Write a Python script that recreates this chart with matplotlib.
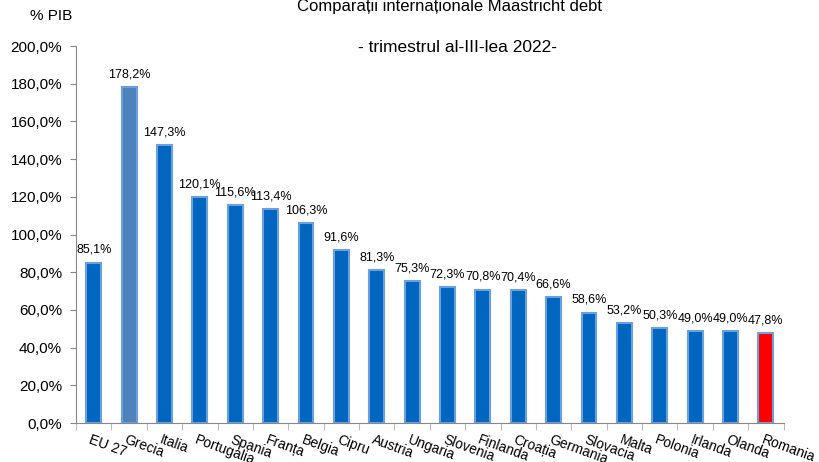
import matplotlib.pyplot as plt
from matplotlib.ticker import FuncFormatter

# date
tari = ['EU 27', 'Grecia', 'Italia', 'Portugalia', 'Spania', 'Franța', 'Belgia', 'Cipru',
        'Austria', 'Ungaria', 'Slovenia', 'Finlanda', 'Croația', 'Germania', 'Slovacia',
        'Malta', 'Polonia', 'Irlanda', 'Olanda', 'Romania']
datorie = [85.1, 178.2, 147.3, 120.1, 115.6, 113.4, 106.3, 91.6, 81.3, 75.3, 72.3,
           70.8, 70.4, 66.6, 58.6, 53.2, 50.3, 49.0, 49.0, 47.8]

plt.rcParams['font.family'] = ['Liberation Sans', 'DejaVu Sans']

culori = ['#0066BF'] * len(tari)
culori[1] = '#4F81BD'
culori[-1] = '#FF0000'

fig = plt.figure(figsize=(8.19, 4.62), dpi=100)
ax = fig.add_axes([0.0928, 0.0844, 0.864, 0.816])

x = range(len(tari))
ax.bar(x, datorie, width=0.42, color=culori, edgecolor='#6A9FE0', linewidth=1.5)

for i, v in enumerate(datorie):
    ax.text(i, v + 3.5, f'{v:.1f}%'.replace('.', ','), ha='center', va='bottom', fontsize=9)

ax.set_xlim(-0.5, len(tari) - 0.5)
ax.set_ylim(0, 200)
ax.set_yticks(range(0, 201, 20))
ax.yaxis.set_major_formatter(FuncFormatter(lambda v, p: f'{v:.1f}%'.replace('.', ',')))
ax.tick_params(axis='y', labelsize=11, direction='out', length=4, pad=6, color='#888888')

ax.set_xticks([i + 0.5 for i in range(-1, len(tari))])
ax.set_xticklabels([])
ax.tick_params(axis='x', direction='out', length=5, color='#BBBBBB')
for i, t in enumerate(tari):
    ax.text(i - 0.05, -5, t, rotation=-20, ha='left', va='top', fontsize=10,
            rotation_mode='anchor')

for s in ['top', 'right']:
    ax.spines[s].set_visible(False)
ax.spines['left'].set_color('#888888')
ax.spines['bottom'].set_color('#888888')

fig.text(0.549, 0.985, 'Comparații internaționale Maastricht debt', ha='center', va='center', fontsize=12)
fig.text(0.558, 0.898, '- trimestrul al-III-lea 2022-', ha='center', va='center', fontsize=12.5)
fig.text(0.037, 0.965, '% PIB', ha='left', va='center', fontsize=11)

plt.savefig('out.png', dpi=100)
